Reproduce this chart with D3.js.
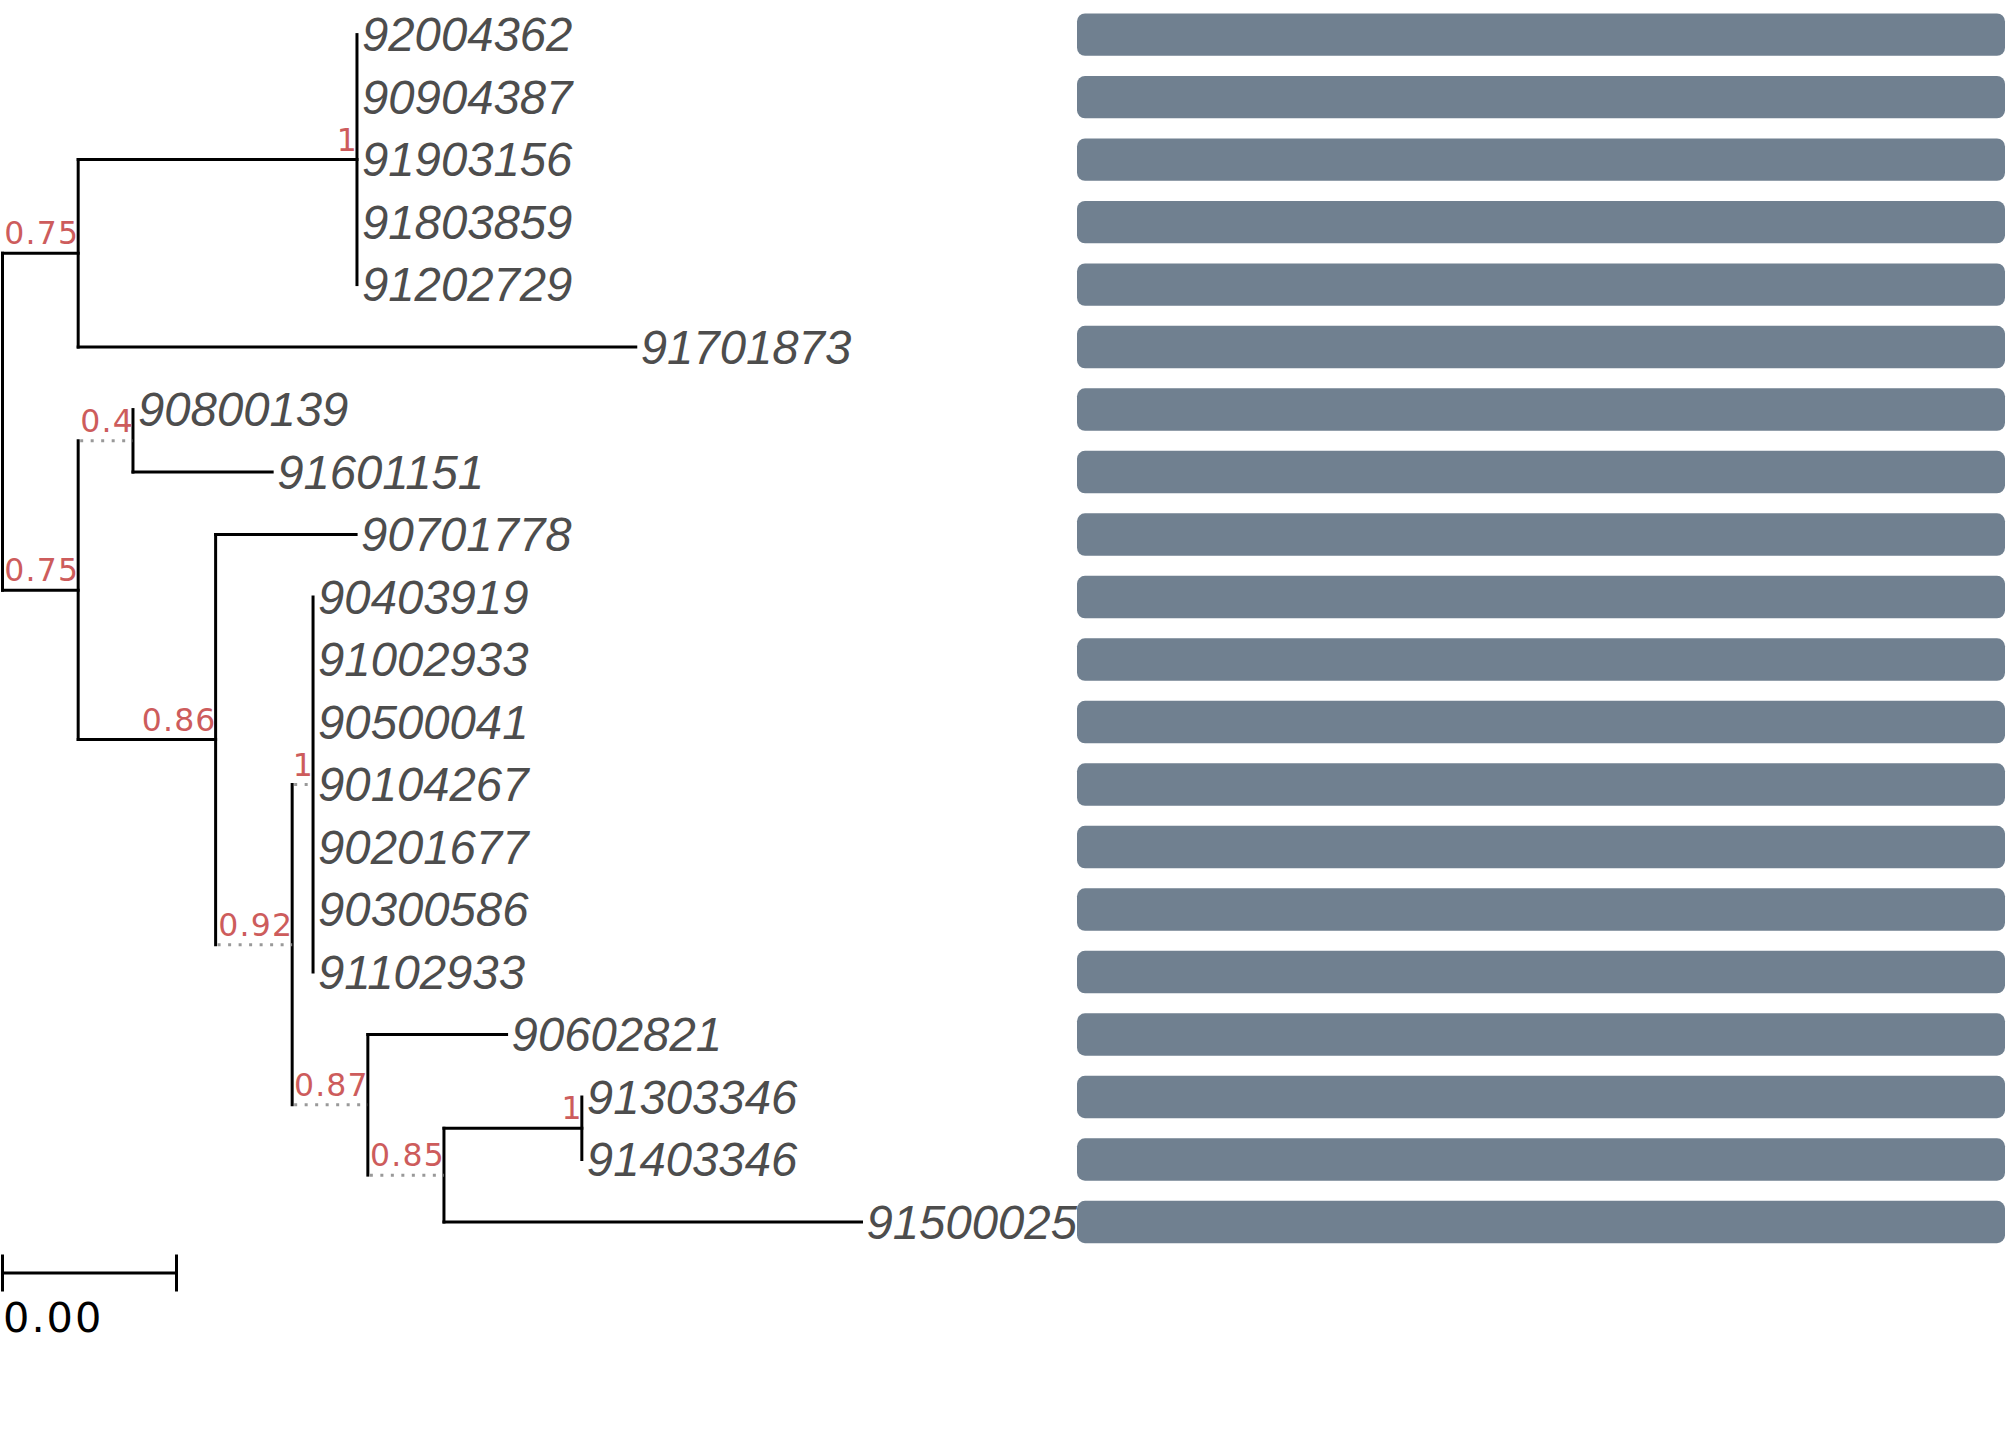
<!DOCTYPE html>
<html>
<head>
<meta charset="utf-8">
<script src="https://cdn.jsdelivr.net/npm/d3@7"></script>
<style>
  body { margin: 0; background: #fff; }
</style>
</head>
<body>
<div id="chart"></div>
<script>
// tips, top to bottom
const tipLabels = ["92004362", "90904387", "91903156", "91803859", "91202729", "91701873",
  "90800139", "91601151", "90701778", "90403919", "91002933", "90500041", "90104267",
  "90201677", "90300586", "91102933", "90602821", "91303346", "91403346", "91500025"];

// tree edges: child, parent, branch length
const edgeChild = ["n1", "n2", "n3", "91701873",
  "92004362", "90904387", "91903156", "91803859", "91202729",
  "n4", "n5", "90800139", "91601151", "90701778", "n6",
  "n7", "n8", "90403919", "91002933", "90500041", "90104267", "90201677", "90300586", "91102933",
  "90602821", "n9", "n10", "91500025", "91303346", "91403346"];
const edgeParent = ["r", "r", "n1", "n1",
  "n3", "n3", "n3", "n3", "n3",
  "n2", "n2", "n4", "n4", "n5", "n5",
  "n6", "n6", "n7", "n7", "n7", "n7", "n7", "n7", "n7",
  "n8", "n8", "n9", "n9", "n10", "n10"];
const edgeLength = [0.00174, 0.00174, 0.00641, 0.01282,
  0, 0, 0, 0, 0,
  0.00126, 0.00316, 0, 0.0032, 0.00323, 0.00176,
  0.00048, 0.00174, 0, 0, 0, 0, 0, 0, 0,
  0.00319, 0.00175, 0.00317, 0.0096, 0, 0];

// dotted branches (by child node)
const dottedEdges = ["n4", "n6", "n7", "n8", "n9"];

// support values on internal nodes
const supportNodes = ["n1", "n2", "n3", "n4", "n5", "n6", "n7", "n8", "n9", "n10"];
const supportValues = ["0.75", "0.75", "1", "0.4", "0.86", "0.92", "1", "0.87", "0.85", "1"];

// bar panel values (one per tip)
const barValues = [1, 1, 1, 1, 1, 1, 1, 1, 1, 1, 1, 1, 1, 1, 1, 1, 1, 1, 1, 1];

// scale bar
const scaleWidth = 0.004;
const scaleLabel = "0.00";

const width = 2007, height = 1430;

const svg = d3.select("#chart").append("svg")
    .attr("width", width)
    .attr("height", height);

// build hierarchy
const table = [{id: "r", parentId: null, len: 0}].concat(
  edgeChild.map((c, i) => ({id: c, parentId: edgeParent[i], len: edgeLength[i]})));
const root = d3.stratify().id(d => d.id).parentId(d => d.parentId)(table);

root.eachBefore(n => { n.depthX = n.parent ? n.parent.depthX + n.data.len : 0; });
root.eachAfter(n => {
  n.row = n.children ? d3.mean(n.children, c => c.row) : tipLabels.indexOf(n.id);
});

const x = d3.scaleLinear().domain([0, 0.01975]).range([2.5, 861.5]);
const y = d3.scaleLinear().domain([0, tipLabels.length - 1]).range([34.6, 1222]);
const xBar = d3.scaleLinear().domain([0, 1]).range([1077, 2005]);

// bars
svg.append("g").selectAll("rect")
  .data(barValues)
  .join("rect")
    .attr("x", xBar(0))
    .attr("y", (d, i) => y(i) - 21.2)
    .attr("width", d => xBar(d) - xBar(0))
    .attr("height", 42.4)
    .attr("rx", 8)
    .attr("fill", "#708090");

const tree = svg.append("g");

// vertical connectors
tree.selectAll("line.v")
  .data(root.descendants().filter(n => n.children))
  .join("line")
    .attr("class", "v")
    .attr("x1", n => x(n.depthX))
    .attr("x2", n => x(n.depthX))
    .attr("y1", n => y(d3.min(n.children, c => c.row)))
    .attr("y2", n => y(d3.max(n.children, c => c.row)))
    .attr("stroke", "#000")
    .attr("stroke-width", 3)
    .attr("stroke-linecap", "square");

// horizontal branches
tree.selectAll("line.h")
  .data(root.descendants().filter(n => n.parent && n.data.len > 0))
  .join("line")
    .attr("class", "h")
    .attr("x1", n => x(n.parent.depthX) + (dottedEdges.includes(n.id) ? 2 : 0))
    .attr("x2", n => x(n.depthX))
    .attr("y1", n => y(n.row))
    .attr("y2", n => y(n.row))
    .attr("stroke", n => dottedEdges.includes(n.id) ? "#999" : "#000")
    .attr("stroke-width", 3)
    .attr("stroke-dasharray", n => dottedEdges.includes(n.id) ? "3 7.5" : null)
    .attr("stroke-linecap", n => dottedEdges.includes(n.id) ? "butt" : "square");

// tip labels
tree.selectAll("text.tip")
  .data(root.leaves())
  .join("text")
    .attr("class", "tip")
    .attr("x", n => x(n.depthX) + 5)
    .attr("y", n => y(n.row) + 16.8)
    .attr("font-family", "'Liberation Sans', Arial, sans-serif")
    .attr("font-style", "italic")
    .attr("font-size", 47.3)
    .attr("fill", "#4D4D4D")
    .text(n => n.id);

// support labels
const nodeById = new Map(root.descendants().map(n => [n.id, n]));
tree.selectAll("text.support")
  .data(supportNodes)
  .join("text")
    .attr("class", "support")
    .attr("x", id => x(nodeById.get(id).depthX) + 1)
    .attr("y", id => y(nodeById.get(id).row) - 9)
    .attr("text-anchor", "end")
    .attr("font-family", "'DejaVu Sans', sans-serif")
    .attr("font-size", 31.5)
    .attr("letter-spacing", 1.2)
    .attr("fill", "#CD5C5C")
    .text((id, i) => supportValues[i]);

// tree scale
const sb = svg.append("g");
const sbY = 1273;
sb.append("line")
  .attr("x1", x(0)).attr("x2", x(scaleWidth))
  .attr("y1", sbY).attr("y2", sbY)
  .attr("stroke", "#000").attr("stroke-width", 3);
[0, scaleWidth].forEach(v => {
  sb.append("line")
    .attr("x1", x(v)).attr("x2", x(v))
    .attr("y1", sbY - 18.5).attr("y2", sbY + 18.5)
    .attr("stroke", "#000").attr("stroke-width", 3);
});
sb.append("text")
  .attr("x", x(0) + 0.5)
  .attr("y", 1332)
  .attr("font-family", "'DejaVu Sans', sans-serif")
  .attr("font-size", 41.5)
  .attr("letter-spacing", 2)
  .attr("fill", "#000")
  .text(scaleLabel);
</script>
</body>
</html>
